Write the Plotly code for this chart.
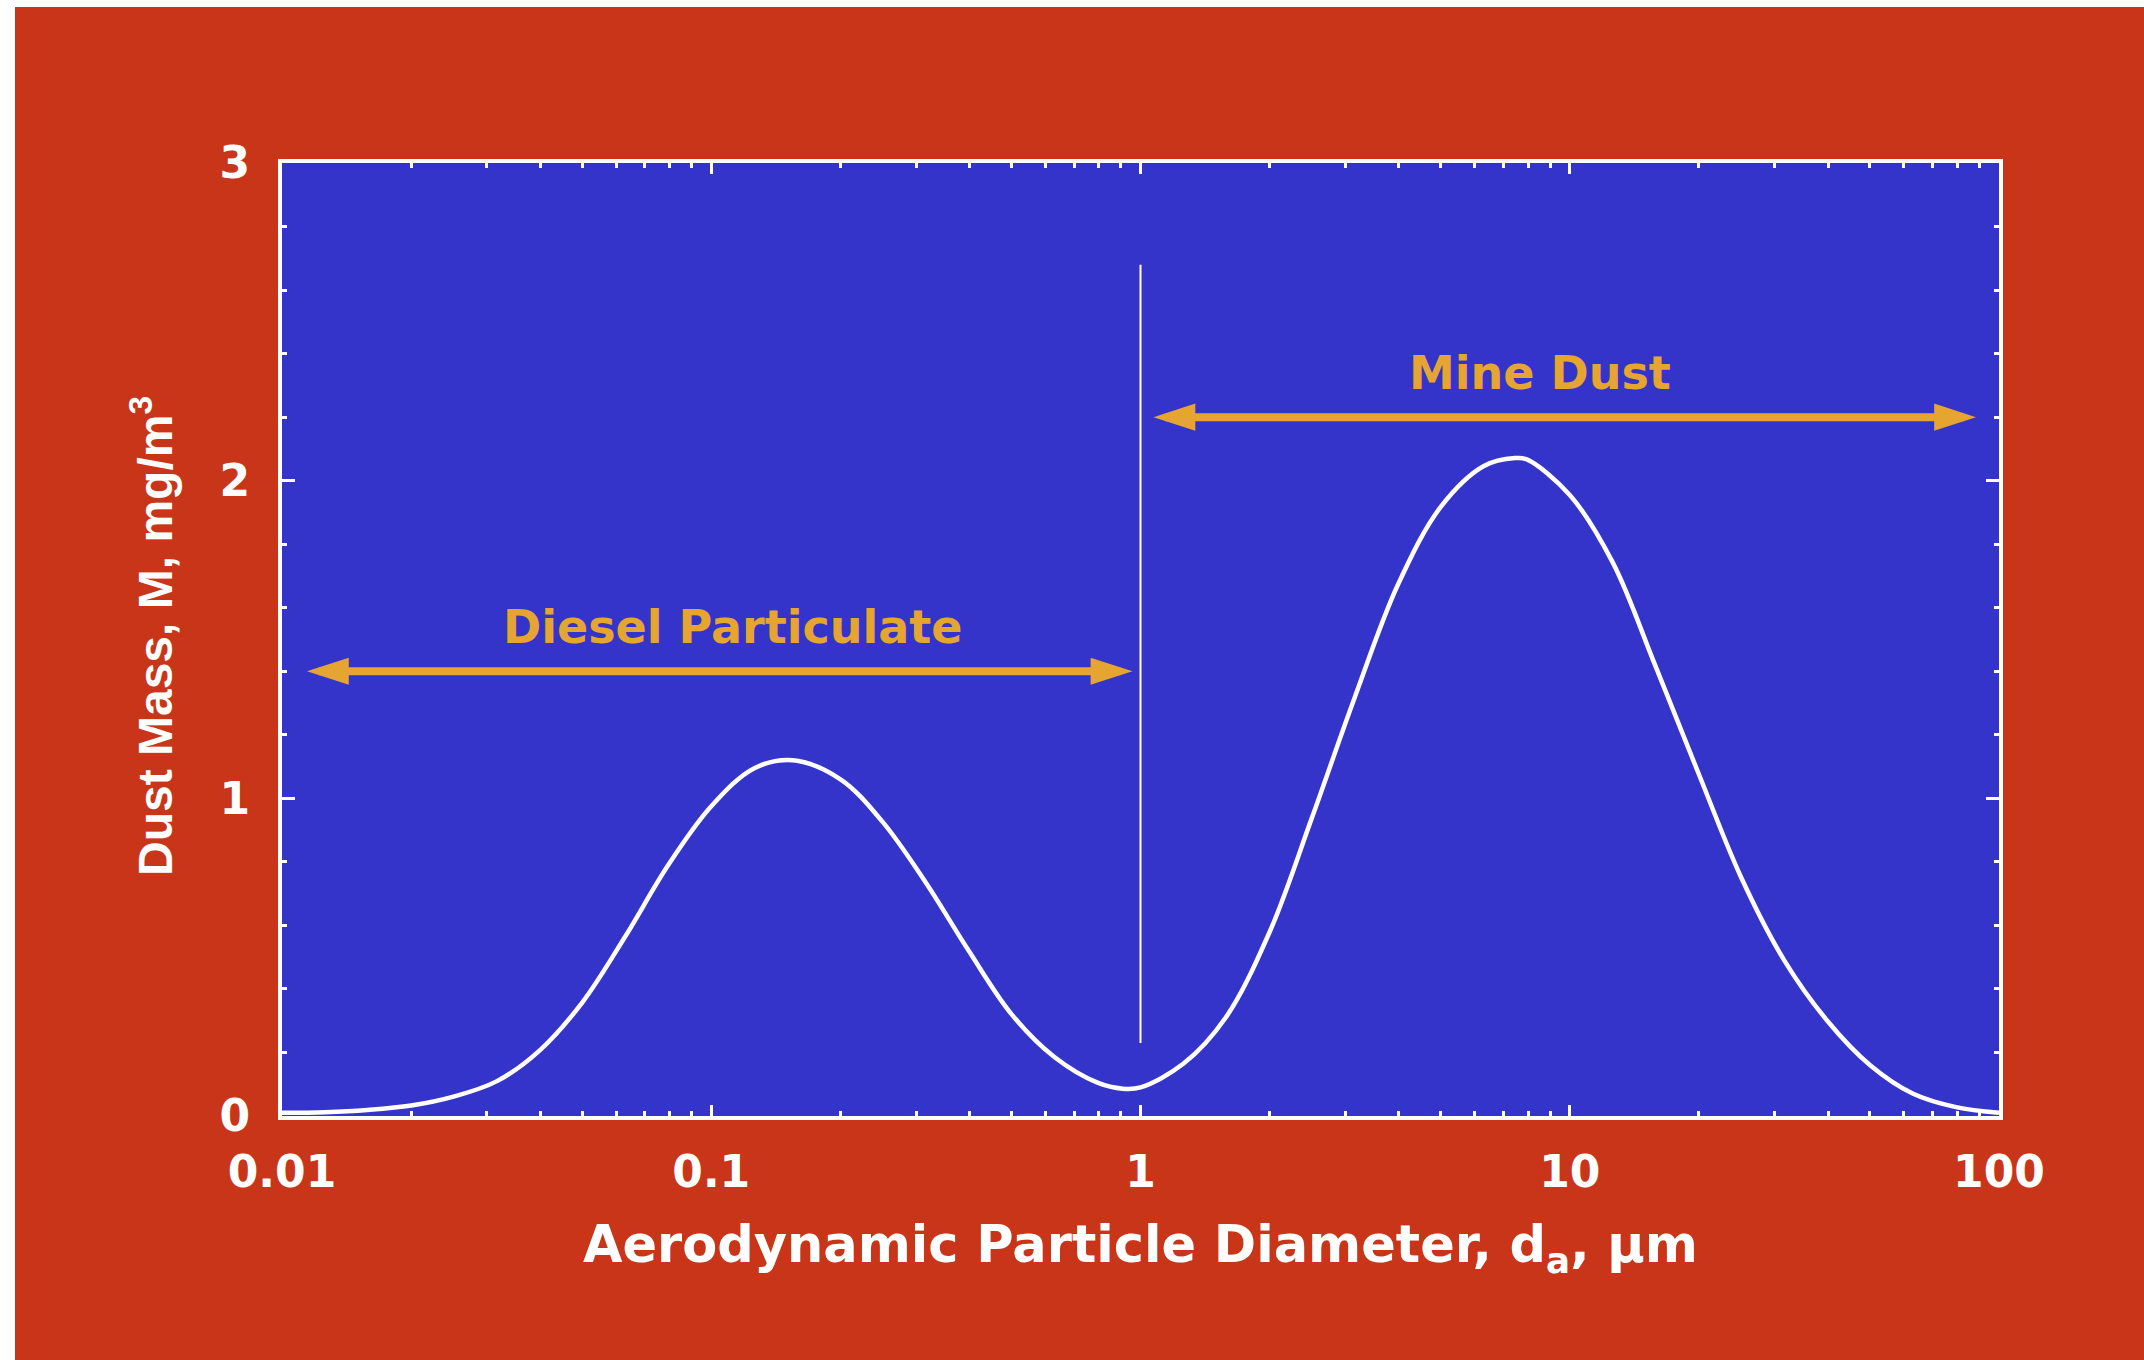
import math
import plotly.graph_objects as go

# ---------------- data ----------------
diameter_um = [0.01, 0.0126, 0.0158, 0.02, 0.0251, 0.0316, 0.0398, 0.0501, 0.0631, 0.0794,
               0.1, 0.126, 0.155, 0.2, 0.251, 0.316, 0.398, 0.501, 0.631, 0.794,
               0.91, 1.0, 1.26, 1.58, 2.0, 2.51, 3.16, 3.98, 5.01, 6.31,
               7.45, 7.94, 10.0, 12.6, 15.8, 20.0, 25.1, 31.6, 39.8, 50.1,
               63.1, 79.4, 100]
mass_mg_m3 = [0.010, 0.012, 0.019, 0.033, 0.061, 0.109, 0.206, 0.358, 0.566, 0.79,
              0.975, 1.095, 1.12, 1.06, 0.925, 0.735, 0.52, 0.32, 0.185, 0.105,
              0.086, 0.090, 0.165, 0.31, 0.58, 0.94, 1.32, 1.673, 1.918, 2.046,
              2.071, 2.067, 1.955, 1.742, 1.42, 1.075, 0.75, 0.49, 0.30, 0.16,
              0.07, 0.028, 0.010]

divider_x = [1.0, 1.0]
divider_y = [0.23, 2.68]

diesel_arrow_x = [0.01143, 0.958]
diesel_arrow_y = [1.40, 1.40]
mine_arrow_x = [1.072, 88.4]
mine_arrow_y = [2.20, 2.20]

x_tick_vals = [0.01, 0.1, 1, 10, 100]
x_tick_text = ["0.01", "0.1", "1", "10", "100"]
y_tick_vals = [0, 1, 2, 3]
y_tick_text = ["0", "1", "2", "3"]

labels = [
    {"text": "Diesel Particulate", "x": 0.112, "y": 1.54},
    {"text": "Mine Dust", "x": 8.51, "y": 2.34},
]

x_title = "Aerodynamic Particle Diameter, d<sub>a</sub>, \u03bcm"
y_title = "Dust Mass, M, mg/m<sup>3</sup>"

# ---------------- style ----------------
RED = "#C93518"
BLUE = "#3434CB"
GOLD = "#E5A530"
WHITE = "#FFFFFF"
FONT = "DejaVu Sans"

# page offset of the figure (white slide edges at top / left)
OFF_X, OFF_Y = 15, 7
W, H = 2144, 1360
ML, MT = 267, 156
PW, PH = 1717, 953
MR = W - ML - PW
MB = H - MT - PH
PX_PER_DECADE = PW / 4.0


def page_to_paper_x(px):
    return (px - OFF_X - ML) / PW


def page_to_paper_y(py):
    return (H - MB - (py - OFF_Y)) / PH


fig = go.Figure()

fig.add_trace(go.Scatter(x=diameter_um, y=mass_mg_m3, mode="lines",
                         line=dict(color=WHITE, width=4.5, shape="spline", smoothing=1.0),
                         hoverinfo="skip", showlegend=False))

fig.add_trace(go.Scatter(x=divider_x, y=divider_y, mode="lines",
                         line=dict(color=WHITE, width=2),
                         hoverinfo="skip", showlegend=False))

# shaft stops a little short of the arrow tips so the heads stay pointed
inset = 10 ** (12 / PX_PER_DECADE)
for ax_, ay_ in [(diesel_arrow_x, diesel_arrow_y), (mine_arrow_x, mine_arrow_y)]:
    fig.add_trace(go.Scatter(x=[ax_[0] * inset, ax_[1] / inset], y=ay_, mode="lines",
                             line=dict(color=GOLD, width=8),
                             hoverinfo="skip", showlegend=False))
    fig.add_trace(go.Scatter(x=ax_, y=ay_, mode="markers",
                             marker=dict(symbol="arrow", angle=[-90, 90], size=44,
                                         color=GOLD, line=dict(width=0)),
                             hoverinfo="skip", showlegend=False))

annotations = []
for lab in labels:
    annotations.append(dict(text=lab["text"], x=math.log10(lab["x"]), y=lab["y"],
                            xref="x", yref="y", showarrow=False,
                            xanchor="center", yanchor="middle",
                            font=dict(family=FONT, size=46, color=GOLD, weight="bold")))

annotations.append(dict(text=x_title, x=page_to_paper_x(1140), y=page_to_paper_y(1248),
                        xref="paper", yref="paper",
                        showarrow=False, xanchor="center", yanchor="middle",
                        font=dict(family=FONT, size=51, color=WHITE, weight="bold")))
annotations.append(dict(text=y_title, x=page_to_paper_x(152), y=page_to_paper_y(636),
                        xref="paper", yref="paper", textangle=-90,
                        showarrow=False, xanchor="center", yanchor="middle",
                        font=dict(family="Liberation Sans, Arial", size=48,
                                  color=WHITE, weight="bold")))

fig.update_layout(
    width=W, height=H,
    margin=dict(l=ML, r=MR, t=MT, b=MB, autoexpand=False),
    paper_bgcolor=RED, plot_bgcolor=BLUE,
    showlegend=False,
    annotations=annotations,
)

fig.update_xaxes(
    type="log", range=[-2, 2],
    tickmode="array", tickvals=x_tick_vals, ticktext=x_tick_text,
    ticks="inside", ticklen=11, tickwidth=3, tickcolor=WHITE,
    minor=dict(ticks="inside", ticklen=5, tickwidth=3, tickcolor=WHITE, dtick="D1", showgrid=False),
    showline=True, linecolor=WHITE, linewidth=4, mirror="allticks",
    showgrid=False, zeroline=False,
    tickfont=dict(family=FONT, size=44, color=WHITE, weight="bold"),
    ticklabelstandoff=14,
)
fig.update_yaxes(
    range=[0, 3],
    tickmode="array", tickvals=y_tick_vals, ticktext=y_tick_text,
    ticks="inside", ticklen=13, tickwidth=3, tickcolor=WHITE,
    minor=dict(ticks="inside", ticklen=5, tickwidth=3, tickcolor=WHITE, dtick=0.2, showgrid=False),
    showline=True, linecolor=WHITE, linewidth=4, mirror="allticks",
    showgrid=False, zeroline=False,
    tickfont=dict(family=FONT, size=44, color=WHITE, weight="bold"),
    ticklabelstandoff=19,
)

page_css = ("document.documentElement.style.overflow='hidden';"
            "document.body.style.overflow='hidden';"
            "document.body.style.margin='%dpx 0 0 %dpx';" % (OFF_Y, OFF_X))

fig.write_html("out.html", post_script=page_css)
